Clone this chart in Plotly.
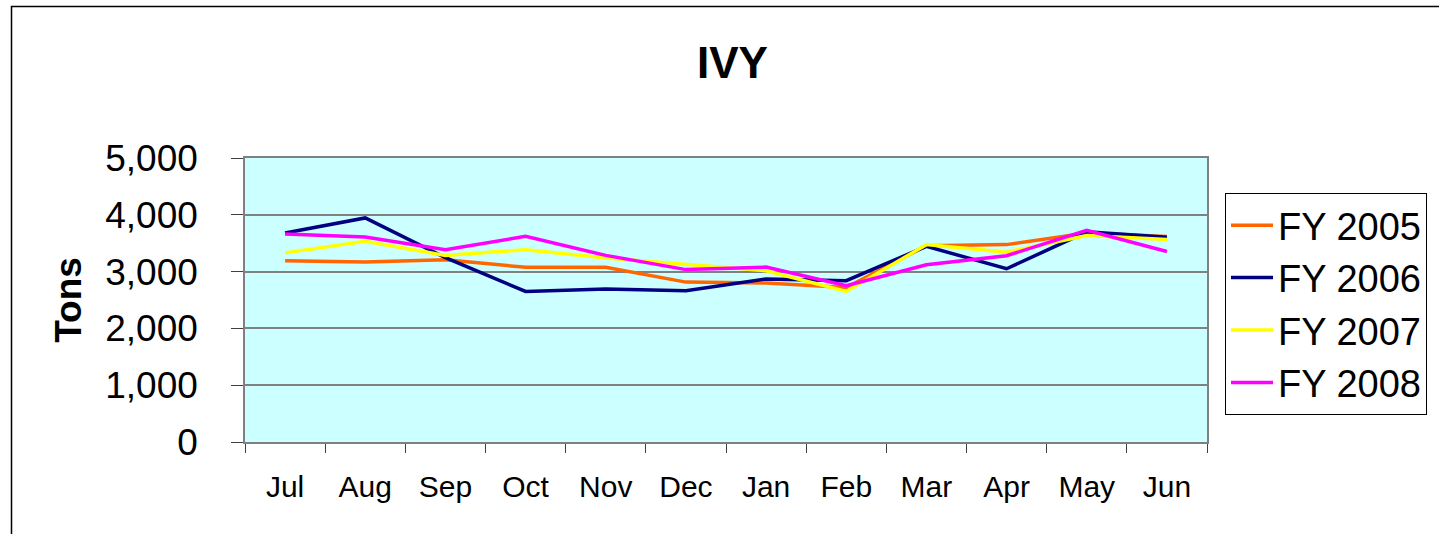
import plotly.graph_objects as go

months = ["Jul", "Aug", "Sep", "Oct", "Nov", "Dec", "Jan", "Feb", "Mar", "Apr", "May", "Jun"]
fy2005 = [3190, 3170, 3210, 3075, 3075, 2815, 2800, 2720, 3455, 3475, 3680, 3620]
fy2006 = [3680, 3945, 3245, 2650, 2695, 2665, 2870, 2840, 3445, 3050, 3700, 3605]
fy2007 = [3330, 3535, 3285, 3385, 3240, 3120, 3015, 2650, 3475, 3340, 3635, 3565]
fy2008 = [3660, 3610, 3385, 3620, 3285, 3035, 3080, 2750, 3120, 3280, 3725, 3355]
series_names = ["FY 2005", "FY 2006", "FY 2007", "FY 2008"]
series_colors = ["#FF6600", "#000080", "#FFFF00", "#FF00FF"]
y_ticks = [0, 1000, 2000, 3000, 4000, 5000]

FONT = "Liberation Sans, Arial, sans-serif"

fig = go.Figure()
for name, vals, col in zip(series_names, [fy2005, fy2006, fy2007, fy2008], series_colors):
    fig.add_trace(go.Scatter(x=months, y=vals, mode="lines", name=name,
                             line=dict(color=col, width=3.5)))

W, H = 1439, 534
# plot area in screen pixels
L, R, T, B = 245, 1207, 158, 442

def px_x(p):
    return (p - L) / (R - L)

def px_y(p):
    return (B - p) / (B - T)

fig.update_layout(
    width=W, height=H, autosize=False,
    margin=dict(l=L, r=W - R, t=T, b=H - B, pad=0),
    paper_bgcolor="white",
    plot_bgcolor="#CCFFFF",
    font=dict(family=FONT, color="black"),
    showlegend=True,
    legend=dict(
        x=px_x(1225), y=px_y(193), xanchor="left", yanchor="top",
        bgcolor="white", bordercolor="black", borderwidth=1,
        font=dict(size=38, family=FONT, color="black"),
        tracegroupgap=0, itemwidth=42,
    ),
    xaxis=dict(
        type="category", categoryorder="array", categoryarray=months,
        range=[-0.5, 11.5],
        showgrid=False, zeroline=False,
        showline=True, linecolor="#808080", linewidth=1.5, mirror=True,
        ticks="outside", tickson="boundaries", ticklen=9, tickcolor="#404040", tickwidth=1,
        tickfont=dict(size=30, family=FONT, color="black"),
        ticklabelstandoff=17,
    ),
    yaxis=dict(
        range=[0, 5000], tickvals=y_ticks, tickformat=",",
        showgrid=True, gridcolor="#808080", gridwidth=1.5,
        zeroline=False,
        showline=True, linecolor="#808080", linewidth=1.5, mirror=True,
        ticks="outside", ticklen=12, tickcolor="#404040", tickwidth=1,
        tickfont=dict(size=37, family=FONT, color="black"),
        ticklabelstandoff=26,
        title=dict(text="<b>Tons</b>", font=dict(size=37, family=FONT, color="black"), standoff=12),
    ),
    shapes=[dict(type="rect", xref="paper", yref="paper",
                 x0=px_x(11.5), x1=px_x(1500), y0=px_y(600), y1=px_y(6.5),
                 line=dict(color="black", width=1.5), fillcolor="rgba(0,0,0,0)", layer="below")],
    annotations=[dict(text="<b>IVY</b>", xref="paper", yref="paper",
                      x=px_x(732), y=px_y(63), xanchor="center", yanchor="middle",
                      showarrow=False, font=dict(size=44, family=FONT, color="black"))],
)

fig.write_html("out.html", config={"displayModeBar": False},
               post_script="document.body.style.margin='0';")
